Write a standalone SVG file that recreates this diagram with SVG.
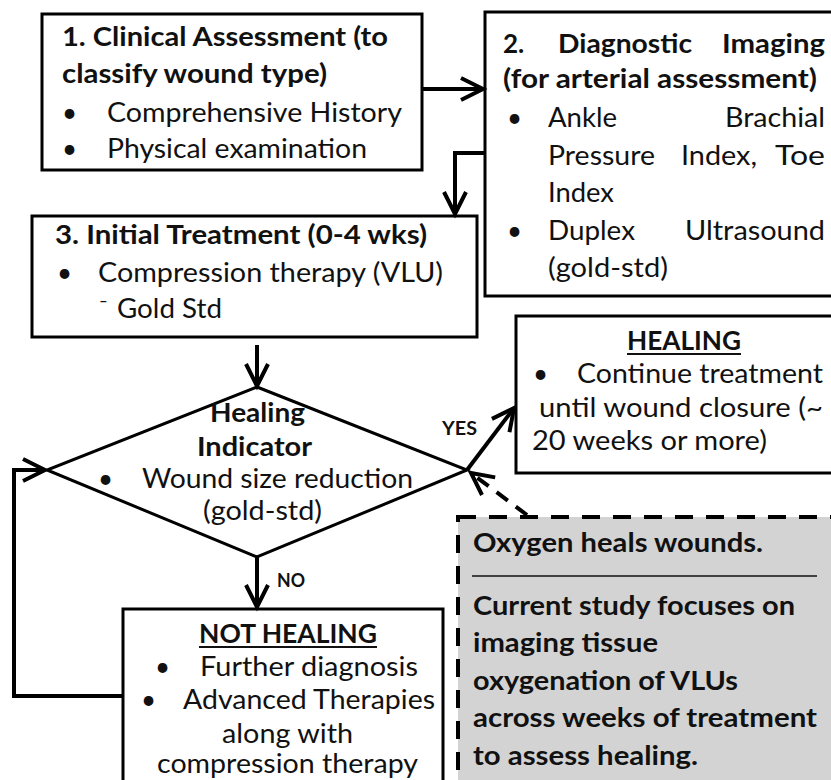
<svg xmlns="http://www.w3.org/2000/svg" width="831" height="780" viewBox="0 0 831 780">
<defs>
<style>
.box{fill:#fff;stroke:#000;stroke-width:3}
.b{font-family:Lato,'Liberation Sans',sans-serif;font-weight:bold;font-size:26px;fill:#111}
.r{font-family:Lato,'Liberation Sans',sans-serif;font-size:26px;fill:#111}
.s{font-family:Lato,'Liberation Sans',sans-serif;font-weight:bold;font-size:18px;fill:#111}
.con{fill:none;stroke:#000;stroke-width:4}
.ul{stroke:#111;stroke-width:2}
</style>
<marker id="ah" markerUnits="userSpaceOnUse" viewBox="-26 -14 30 28" refX="0" refY="0" markerWidth="30" markerHeight="28" orient="auto" overflow="visible">
<path d="M-22,-11 L0,0 L-22,11" fill="none" stroke="#000" stroke-width="4"/>
</marker>
</defs>
<rect width="831" height="780" fill="#fff"/>

<g id="n1">
<rect class="box" x="42" y="14" width="380" height="156"/>
<text class="b" x="62" y="46" textLength="326" lengthAdjust="spacingAndGlyphs">1. Clinical Assessment (to</text>
<text class="b" x="62" y="83" textLength="265" lengthAdjust="spacingAndGlyphs">classify wound type)</text>
<text class="r" x="62" y="122">•</text>
<text class="r" x="107" y="122" textLength="295" lengthAdjust="spacingAndGlyphs">Comprehensive History</text>
<text class="r" x="62" y="158">•</text>
<text class="r" x="107" y="158" textLength="260" lengthAdjust="spacingAndGlyphs">Physical examination</text>
</g>

<g id="n2">
<rect class="box" x="485" y="12" width="360" height="284"/>
<text class="b" x="503" y="53">2.</text>
<text class="b" x="558" y="53" textLength="134" lengthAdjust="spacingAndGlyphs">Diagnostic</text>
<text class="b" x="722" y="53" textLength="103" lengthAdjust="spacingAndGlyphs">Imaging</text>
<text class="b" x="503" y="88" textLength="314" lengthAdjust="spacingAndGlyphs">(for arterial assessment)</text>
<text class="r" x="507" y="127">•</text>
<text class="r" x="548" y="127" textLength="69" lengthAdjust="spacingAndGlyphs">Ankle</text>
<text class="r" x="725" y="127" textLength="100" lengthAdjust="spacingAndGlyphs">Brachial</text>
<text class="r" x="548" y="165" textLength="107" lengthAdjust="spacingAndGlyphs">Pressure</text>
<text class="r" x="681" y="165" textLength="76" lengthAdjust="spacingAndGlyphs">Index,</text>
<text class="r" x="775" y="165" textLength="50" lengthAdjust="spacingAndGlyphs">Toe</text>
<text class="r" x="548" y="202" textLength="66" lengthAdjust="spacingAndGlyphs">Index</text>
<text class="r" x="507" y="240">•</text>
<text class="r" x="548" y="240" textLength="87" lengthAdjust="spacingAndGlyphs">Duplex</text>
<text class="r" x="685" y="240" textLength="140" lengthAdjust="spacingAndGlyphs">Ultrasound</text>
<text class="r" x="548" y="277" textLength="120" lengthAdjust="spacingAndGlyphs">(gold-std)</text>
</g>

<g id="n3">
<rect class="box" x="32" y="216" width="445" height="121"/>
<text class="b" x="55" y="244" textLength="372" lengthAdjust="spacingAndGlyphs">3. Initial Treatment (0-4 wks)</text>
<text class="r" x="57" y="282">•</text>
<text class="r" x="98" y="282" textLength="345" lengthAdjust="spacingAndGlyphs">Compression therapy (VLU)</text>
<text class="r" x="99" y="318">⁻</text>
<text class="r" x="117" y="318" textLength="105" lengthAdjust="spacingAndGlyphs">Gold Std</text>
</g>

<g id="n4">
<polygon points="257,387 467,470 257,557 47,470" fill="#fff" stroke="#000" stroke-width="3"/>
<text class="b" x="210" y="422" textLength="95" lengthAdjust="spacingAndGlyphs">Healing</text>
<text class="b" x="197" y="456" textLength="115" lengthAdjust="spacingAndGlyphs">Indicator</text>
<text class="r" x="98" y="488">•</text>
<text class="r" x="142" y="488" textLength="271" lengthAdjust="spacingAndGlyphs">Wound size reduction</text>
<text class="r" x="203" y="520" textLength="119" lengthAdjust="spacingAndGlyphs">(gold-std)</text>
</g>

<g id="n5">
<rect class="box" x="516" y="316" width="330" height="157"/>
<text class="b" x="627" y="350" textLength="114" lengthAdjust="spacingAndGlyphs">HEALING</text>
<line class="ul" x1="627" y1="354" x2="741" y2="354"/>
<text class="r" x="533" y="383">•</text>
<text class="r" x="577" y="383" textLength="246" lengthAdjust="spacingAndGlyphs">Continue treatment</text>
<text class="r" x="539" y="417" textLength="284" lengthAdjust="spacingAndGlyphs">until wound closure (~</text>
<text class="r" x="532" y="450" textLength="235" lengthAdjust="spacingAndGlyphs">20 weeks or more)</text>
</g>

<g id="n6">
<rect class="box" x="123" y="609" width="320" height="200"/>
<text class="b" x="199" y="643" textLength="178" lengthAdjust="spacingAndGlyphs">NOT HEALING</text>
<line class="ul" x1="199" y1="647" x2="377" y2="647"/>
<text class="r" x="155" y="676">•</text>
<text class="r" x="200" y="676" textLength="218" lengthAdjust="spacingAndGlyphs">Further diagnosis</text>
<text class="r" x="141" y="709">•</text>
<text class="r" x="183" y="709" textLength="252" lengthAdjust="spacingAndGlyphs">Advanced Therapies</text>
<text class="r" x="222" y="743" textLength="131" lengthAdjust="spacingAndGlyphs">along with</text>
<text class="r" x="157" y="773" textLength="261" lengthAdjust="spacingAndGlyphs">compression therapy</text>
</g>

<g id="n7">
<rect x="458" y="517" width="400" height="300" fill="#d3d3d3" stroke="#000" stroke-width="4" stroke-dasharray="18 13"/>
<text class="b" x="473" y="552" textLength="290" lengthAdjust="spacingAndGlyphs">Oxygen heals wounds.</text>
<line x1="472" y1="576" x2="817" y2="576" stroke="#111" stroke-width="1.5"/>
<text class="b" x="473" y="615" textLength="322" lengthAdjust="spacingAndGlyphs">Current study focuses on</text>
<text class="b" x="473" y="652" textLength="185" lengthAdjust="spacingAndGlyphs">imaging tissue</text>
<text class="b" x="473" y="690" textLength="265" lengthAdjust="spacingAndGlyphs">oxygenation of VLUs</text>
<text class="b" x="473" y="727" textLength="344" lengthAdjust="spacingAndGlyphs">across weeks of treatment</text>
<text class="b" x="473" y="765" textLength="225" lengthAdjust="spacingAndGlyphs">to assess healing.</text>
</g>

<g id="connectors">
<path class="con" d="M422,89 H483" marker-end="url(#ah)"/>
<path class="con" d="M485,153 H455 V214" marker-end="url(#ah)"/>
<path class="con" d="M257,345 V386" marker-end="url(#ah)"/>
<path class="con" d="M467,470 L514,408" marker-end="url(#ah)"/>
<path class="con" d="M257,557 V607" marker-end="url(#ah)"/>
<path class="con" d="M123,696 H14 V470 H45" marker-end="url(#ah)"/>
<path class="con" d="M527,515 L471,473" stroke-dasharray="14 10" stroke-width="3.5" marker-end="url(#ah)"/>
<text class="s" x="442" y="435" textLength="35" lengthAdjust="spacingAndGlyphs">YES</text>
<text class="s" x="277" y="587" textLength="28" lengthAdjust="spacingAndGlyphs">NO</text>
</g>
</svg>
